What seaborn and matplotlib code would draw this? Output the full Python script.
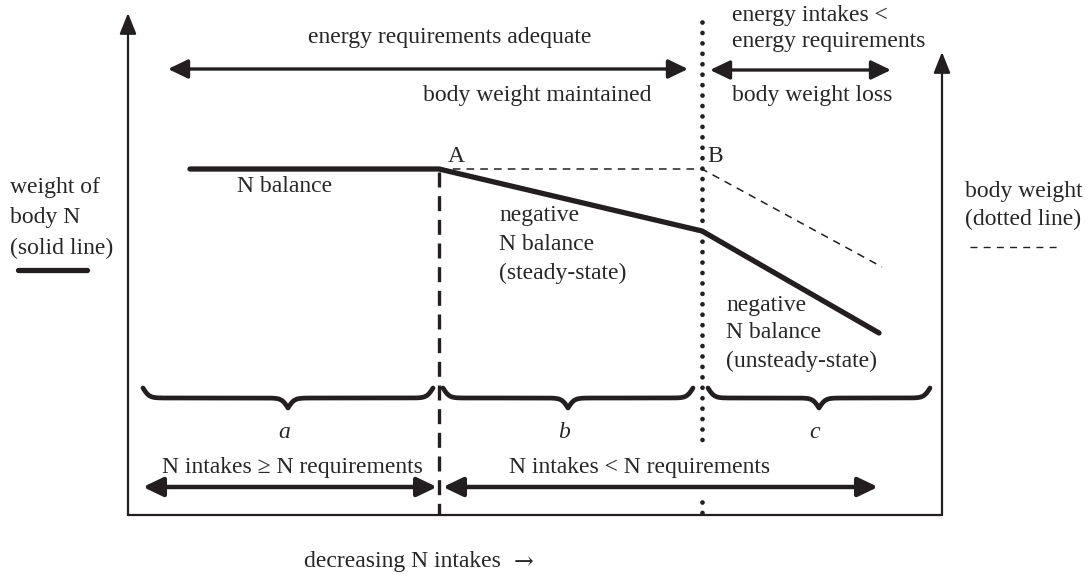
import numpy as np
import matplotlib
matplotlib.use("Agg")
import matplotlib.pyplot as plt
import seaborn as sns

# schematic laid out in picture units (x: left->right, y: top->bottom)
axis_left_x = 128
axis_right_x = 942
axis_bottom_y = 515
axis_left_top = 13
axis_right_top = 52

point_a_x = 439
point_b_x = 702

# body N (solid line)
n_x = [190, 439, 702, 879]
n_y = [169, 169, 231, 333]
# body weight (dashed line)
bw_x = [439, 702, 882]
bw_y = [169, 169, 267]

# phases a, b, c
phase_labels = ["a", "b", "c"]
phase_start = [143, 443, 708]
phase_end = [433, 693, 930]

sns.set_theme(style="white")
plt.rcParams["font.family"] = ["Liberation Serif", "DejaVu Serif"]
fs = 17
ink = "#231f20"

fig = plt.figure(figsize=(10.89, 5.77), dpi=100)
ax = fig.add_axes([0, 0, 1, 1])
ax.set_xlim(0, 1089)
ax.set_ylim(577, 0)
ax.axis("off")


def arrow(x0, y0, x1, y1, style="<|-|>", lw=2.6, hl=0.75, hw=0.36):
    ax.annotate("", xy=(x1, y1), xytext=(x0, y0),
                arrowprops=dict(arrowstyle=f"{style},head_length={hl},head_width={hw}",
                                lw=lw, color=ink, shrinkA=0, shrinkB=0,
                                mutation_scale=16))


def brace(x0, x1, y_top, h):
    # curly brace opening upward, tip pointing down
    n = 301
    xs = np.linspace(x0, x1, n)
    half = xs[: n // 2 + 1]
    beta = 0.32
    yh = 1 / (1 + np.exp(-beta * (half - half[0]))) + 1 / (1 + np.exp(-beta * (half - half[-1])))
    ys = np.concatenate((yh, yh[-2::-1]))
    ax.plot(xs, y_top + (ys - 0.5) * h, color=ink, lw=3.4, solid_capstyle="round")


# axes
arrow(axis_left_x, axis_bottom_y, axis_left_x, axis_left_top, style="-|>", lw=1.6, hl=0.8, hw=0.32)
arrow(axis_right_x, axis_bottom_y, axis_right_x, axis_right_top, style="-|>", lw=1.6, hl=0.8, hw=0.32)
ax.plot([axis_left_x, axis_right_x], [axis_bottom_y, axis_bottom_y], color=ink, lw=1.6)

# boundary at A (dashed) and B (dotted)
ax.plot([point_a_x, point_a_x], [172, axis_bottom_y], color=ink, lw=2.4,
        linestyle=(0, (4.5, 2.6)))
ax.plot([point_b_x, point_b_x], [22, 440], color=ink, lw=3.4,
        linestyle=(0, (0.01, 2.2)), dash_capstyle="round")
ax.plot([point_b_x, point_b_x], [502, 513], color=ink, lw=3.4,
        linestyle=(0, (0.01, 2.2)), dash_capstyle="round")

# body N and body weight curves
sns.lineplot(x=n_x, y=n_y, ax=ax, color=ink, lw=3.8, sort=False,
             estimator=None)
sns.lineplot(x=bw_x, y=bw_y, ax=ax, color=ink, lw=1.1, sort=False,
             estimator=None, linestyle=(0, (5, 4)))

# top arrows
arrow(168, 69, 688, 69, lw=2.4)
arrow(710, 70, 891, 70, lw=2.4)
ax.text(450, 38, "energy requirements adequate", fontsize=fs, ha="center", va="center")
ax.text(537, 95, "body weight maintained", fontsize=fs, ha="center", va="center")
ax.text(732, 15, "energy intakes <", fontsize=fs, ha="left", va="center")
ax.text(732, 42, "energy requirements", fontsize=fs, ha="left", va="center")
ax.text(812, 95, "body weight loss", fontsize=fs, ha="center", va="center")

# point labels
ax.text(448, 157, "A", fontsize=fs, ha="left", va="center")
ax.text(707, 157, "B", fontsize=fs, ha="left", va="center")

ax.text(285, 187, "N balance", fontsize=fs, ha="center", va="center")
for i, s in enumerate(["negative", "N balance", "(steady-state)"]):
    ax.text(499, 215 + 29 * i, s, fontsize=fs, ha="left", va="center")
for i, s in enumerate(["negative", "N balance", "(unsteady-state)"]):
    ax.text(726, 305 + 28 * i, s, fontsize=fs, ha="left", va="center")

# axis captions
for i, s in enumerate(["weight of", "body N", "(solid line)"]):
    ax.text(10, 188 + 30 * i, s, fontsize=fs, ha="left", va="center")
ax.plot([18, 87], [270, 270], color=ink, lw=3.8)
for i, s in enumerate(["body weight", "(dotted line)"]):
    ax.text(965, 191 + 28 * i, s, fontsize=fs, ha="left", va="center")
ax.plot([970, 1060], [247, 247], color=ink, lw=1.0, linestyle=(0, (5, 4.5)))

# braces and phase letters
for lab, x0, x1 in zip(phase_labels, phase_start, phase_end):
    brace(x0, x1, 388, 20)
    ax.text((x0 + x1) / 2 - 4, 433, lab, fontsize=fs, style="italic", ha="center", va="center")

# bottom arrows
arrow(143, 487, 437, 487, lw=3.2)
arrow(443, 487, 878, 487, lw=3.2)
ax.text(292, 468, "N intakes \u2265 N requirements", fontsize=fs, ha="center", va="center")
ax.text(640, 468, "N intakes < N requirements", fontsize=fs, ha="center", va="center")

ax.text(402, 562, "decreasing N intakes", fontsize=fs, ha="center", va="center")
ax.text(524, 563, "\u2192", fontsize=fs, ha="center", va="center",
        family=["DejaVu Serif"])

fig.savefig("out.png", dpi=100, facecolor="white")
